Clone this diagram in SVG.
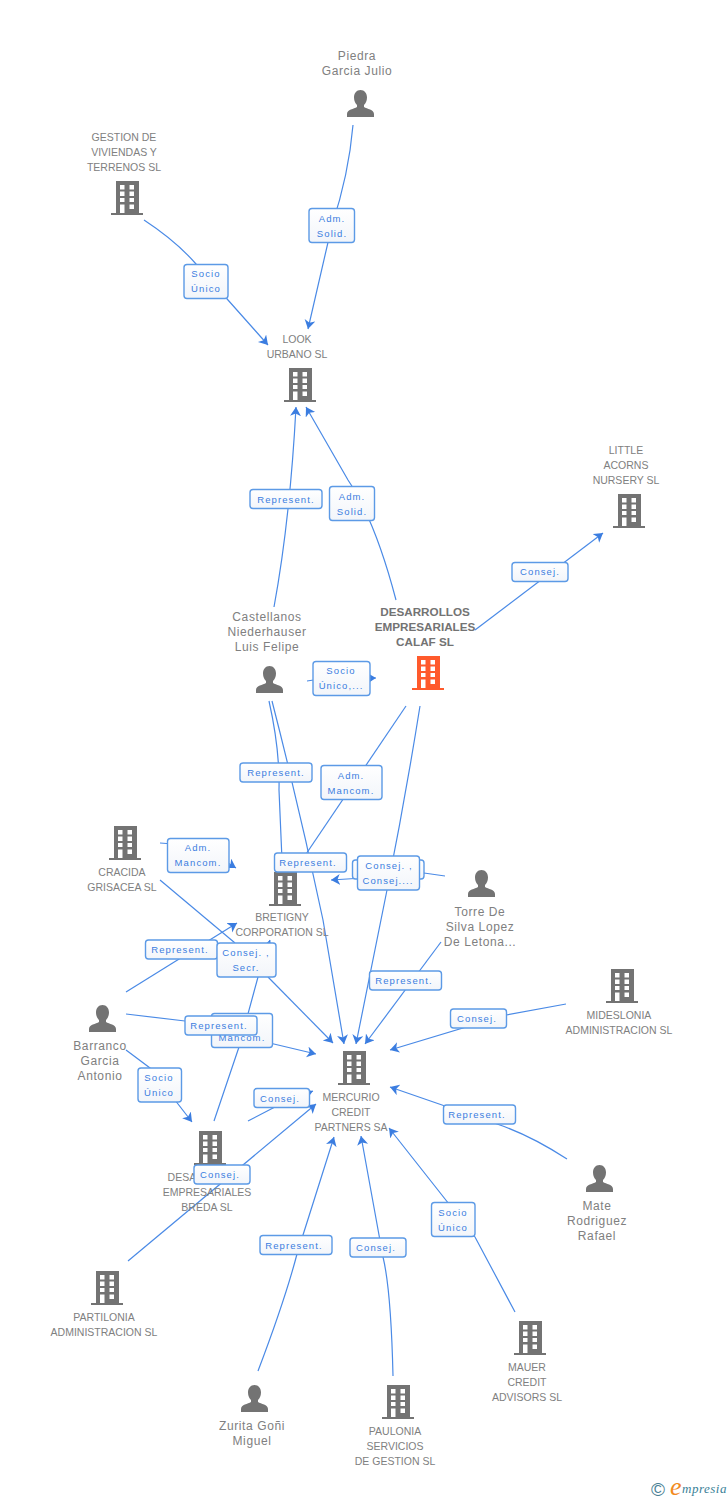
<svg xmlns="http://www.w3.org/2000/svg" width="728" height="1500" viewBox="0 0 728 1500">
<style>
text{font-family:"Liberation Sans",Arial,sans-serif}
.n{font-size:10.5px;fill:#808080;text-anchor:middle}
.p{font-size:12px;letter-spacing:.6px;fill:#808080;text-anchor:middle}
.b{font-size:11.700px;font-weight:bold;fill:#737373;text-anchor:middle}
.l{font-size:9.500px;letter-spacing:1.1px;fill:#3b7de0;text-anchor:middle}
.box{fill:url(#g);stroke:#5c9ae6;stroke-width:1.4}
.c{fill:none;stroke:#4a8ae6;stroke-width:1.2;marker-end:url(#a)}
.c0{fill:none;stroke:#4a8ae6;stroke-width:1.2}
</style>
<defs>
<linearGradient id="g" x1="0" y1="0" x2="0" y2="1"><stop offset="0" stop-color="#fff"/><stop offset="1" stop-color="#f2f5fa"/></linearGradient>
<marker id="a" markerUnits="userSpaceOnUse" markerWidth="11" markerHeight="12" refX="9" refY="5.500" orient="auto"><path d="M0,0 L9,5.500 L0,11 L2.500,5.500Z" fill="#3b7de0"/></marker>
<g id="bld"><path fill-rule="evenodd" d="M5,0H28V32H32V34H0V32H5ZM9,4V8.500H13.500V4ZM18.500,4V8.500H23V4ZM9,10.500V15H13.500V10.500ZM18.500,10.500V15H23V10.500ZM9,17V21H13.500V17ZM18.500,17V21H23V17ZM9,23.500V32H13.500V23.500ZM18.500,23.500V28H23V23.500Z"/></g>
<g id="psn"><path d="M13.500,0C17.500,0 20,3.200 20,7.500C20,11 18.500,13.500 17,15V17C20,19 27,19.500 27,24V27H0V24C0,19.500 7,19 10,17V15C8.500,13.500 7,11 7,7.500C7,3.200 9.500,0 13.500,0Z"/></g>
</defs>
<rect width="728" height="1500" fill="#fff"/>
<g id="connectors">
<path class="c" d="M353,125C350,160 342,195 332,225L308,329"/>
<path class="c" d="M144,220Q176,241 196,264L268,345"/>
<path class="c" d="M274,607Q290,520 296,407"/>
<path class="c" d="M396,600Q375,520 348,480L306,407"/>
<path class="c" d="M475,630L603,533"/>
<path class="c" d="M307,681L320,679L376,678"/>
<path class="c0" d="M269,701Q280,750 279,790L282,860"/>
<path class="c" d="M272,701Q300,810 323,920L344,1044"/>
<path class="c0" d="M406,706L302,860"/>
<path class="c" d="M420,706Q405,800 387,890L356,1044"/>
<path class="c" d="M445,876L424,873L395,876L331,880"/>
<path class="c" d="M441,942L365,1044"/>
<path class="c" d="M160,843L200,846L236,868"/>
<path class="c0" d="M160,880L235,943"/>
<path class="c" d="M268,977L333,1043"/>
<path class="c" d="M126,992L237,923"/>
<path class="c" d="M214,1121L239,1047L258,977L270,940"/>
<path class="c" d="M126,1014L185,1021L257,1040L316,1054"/>
<path class="c" d="M126,1050L150,1068L192,1122"/>
<path class="c" d="M248,1121L273,1108L290,1100L313,1091"/>
<path class="c" d="M128,1261L316,1104"/>
<path class="c" d="M258,1371Q285,1300 297,1254L334,1137"/>
<path class="c" d="M393,1376Q391,1290 383,1257L361,1136"/>
<path class="c" d="M515,1312Q490,1265 475,1237L389,1128"/>
<path class="c" d="M567,1159Q530,1135 497,1124L390,1087"/>
<path class="c" d="M566,1004L506,1015L390,1050"/>
</g>
<g id="node-piedra"><text class="p" x="357" y="60">Piedra</text><text class="p" x="357" y="75">Garcia Julio</text><use href="#psn" x="347" y="90" fill="#737373"/></g>
<g id="node-gestion"><text class="n" x="124" y="141">GESTION DE</text><text class="n" x="124" y="156">VIVIENDAS Y</text><text class="n" x="124" y="171">TERRENOS SL</text><use href="#bld" x="111" y="181" fill="#737373"/></g>
<g id="node-look"><text class="n" x="297" y="343">LOOK</text><text class="n" x="297" y="358">URBANO SL</text><use href="#bld" x="284" y="368" fill="#737373"/></g>
<g id="node-little"><text class="n" x="626" y="454">LITTLE</text><text class="n" x="626" y="469">ACORNS</text><text class="n" x="626" y="484">NURSERY SL</text><use href="#bld" x="613" y="494" fill="#737373"/></g>
<g id="node-calaf"><text class="b" x="425" y="616">DESARROLLOS</text><text class="b" x="425" y="631">EMPRESARIALES</text><text class="b" x="425" y="646">CALAF SL</text><use href="#bld" x="412" y="656" fill="#ff5a2c"/></g>
<g id="node-castellanos"><text class="p" x="267" y="621">Castellanos</text><text class="p" x="267" y="636">Niederhauser</text><text class="p" x="267" y="651">Luis Felipe</text><use href="#psn" x="256" y="666" fill="#737373"/></g>
<g id="node-cracida"><use href="#bld" x="109" y="826" fill="#737373"/><text class="n" x="122" y="876">CRACIDA</text><text class="n" x="122" y="891">GRISACEA SL</text></g>
<g id="node-bretigny"><use href="#bld" x="269" y="872" fill="#737373"/><text class="n" x="282" y="921">BRETIGNY</text><text class="n" x="282" y="936">CORPORATION SL</text></g>
<g id="node-torre"><use href="#psn" x="468" y="870" fill="#737373"/><text class="p" x="480" y="916">Torre De</text><text class="p" x="480" y="931">Silva Lopez</text><text class="p" x="480" y="946">De Letona...</text></g>
<g id="node-mideslonia"><use href="#bld" x="606" y="969" fill="#737373"/><text class="n" x="619" y="1019">MIDESLONIA</text><text class="n" x="619" y="1034">ADMINISTRACION SL</text></g>
<g id="node-barranco"><use href="#psn" x="89" y="1005" fill="#737373"/><text class="p" x="100" y="1050">Barranco</text><text class="p" x="100" y="1065">Garcia</text><text class="p" x="100" y="1080">Antonio</text></g>
<g id="node-mercurio"><use href="#bld" x="338" y="1051" fill="#737373"/><text class="n" x="351" y="1101">MERCURIO</text><text class="n" x="351" y="1116">CREDIT</text><text class="n" x="351" y="1131">PARTNERS SA</text></g>
<g id="node-breda"><use href="#bld" x="194" y="1131" fill="#737373"/><text class="n" x="207" y="1181">DESARROLLOS</text><text class="n" x="207" y="1196">EMPRESARIALES</text><text class="n" x="207" y="1211">BREDA SL</text></g>
<g id="node-mate"><use href="#psn" x="586" y="1165" fill="#737373"/><text class="p" x="597" y="1210">Mate</text><text class="p" x="597" y="1225">Rodriguez</text><text class="p" x="597" y="1240">Rafael</text></g>
<g id="node-partilonia"><use href="#bld" x="91" y="1271" fill="#737373"/><text class="n" x="104" y="1321">PARTILONIA</text><text class="n" x="104" y="1336">ADMINISTRACION SL</text></g>
<g id="node-mauer"><use href="#bld" x="514" y="1321" fill="#737373"/><text class="n" x="527" y="1371">MAUER</text><text class="n" x="527" y="1386">CREDIT</text><text class="n" x="527" y="1401">ADVISORS SL</text></g>
<g id="node-zurita"><use href="#psn" x="241" y="1385" fill="#737373"/><text class="p" x="252" y="1430">Zurita Goñi</text><text class="p" x="252" y="1445">Miguel</text></g>
<g id="node-paulonia"><use href="#bld" x="382" y="1385" fill="#737373"/><text class="n" x="395" y="1435">PAULONIA</text><text class="n" x="395" y="1450">SERVICIOS</text><text class="n" x="395" y="1465">DE GESTION SL</text></g>
<g id="labels">
<g><rect class="box" x="184" y="264.500" width="44" height="34" rx="3"/><text class="l" x="206" y="277">Socio</text><text class="l" x="206" y="292">Único</text></g>
<g><rect class="box" x="309" y="208.500" width="45.500" height="34" rx="3"/><text class="l" x="332" y="222">Adm.</text><text class="l" x="332" y="237">Solid.</text></g>
<g><rect class="box" x="250" y="489.500" width="72" height="19" rx="3"/><text class="l" x="286" y="503">Represent.</text></g>
<g><rect class="box" x="329.500" y="486.500" width="45" height="34" rx="3"/><text class="l" x="352" y="500">Adm.</text><text class="l" x="352" y="515">Solid.</text></g>
<g><rect class="box" x="512" y="562.500" width="56" height="19" rx="3"/><text class="l" x="540" y="575">Consej.</text></g>
<g><rect class="box" x="313" y="661.500" width="57" height="34" rx="3"/><text class="l" x="341" y="674">Socio</text><text class="l" x="341" y="689">Único,...</text></g>
<g><rect class="box" x="240" y="763" width="72" height="19" rx="3"/><text class="l" x="276" y="776">Represent.</text></g>
<g><rect class="box" x="321" y="765.500" width="61" height="34" rx="3"/><text class="l" x="351" y="779">Adm.</text><text class="l" x="351" y="794">Mancom.</text></g>
<g><rect class="box" x="167.500" y="838.500" width="61.500" height="34" rx="3"/><text class="l" x="198" y="851">Adm.</text><text class="l" x="198" y="866">Mancom.</text></g>
<g><rect class="box" x="274.500" y="853" width="72" height="19" rx="3"/><text class="l" x="308" y="866">Represent.</text></g>
<g><rect class="box" x="352.500" y="860" width="71.500" height="19" rx="3"/></g>
<g><rect class="box" x="357.500" y="856" width="62" height="34" rx="3"/><text class="l" x="389" y="869">Consej. ,</text><text class="l" x="388" y="884">Consej....</text></g>
<g><rect class="box" x="145.500" y="940" width="72" height="19" rx="3"/><text class="l" x="180" y="953">Represent.</text></g>
<g><rect class="box" x="217" y="943" width="59" height="34" rx="3"/><text class="l" x="246" y="956">Consej. ,</text><text class="l" x="246" y="971">Secr.</text></g>
<g><rect class="box" x="211.500" y="1013.500" width="61" height="34" rx="3"/><text class="l" x="242" y="1041">Mancom.</text></g>
<g><rect class="box" x="185" y="1016" width="72" height="19" rx="3"/><text class="l" x="219" y="1029">Represent.</text></g>
<g><rect class="box" x="138" y="1068" width="43.500" height="34" rx="3"/><text class="l" x="159" y="1081">Socio</text><text class="l" x="159" y="1096">Único</text></g>
<g><rect class="box" x="254" y="1088.500" width="55.500" height="19" rx="3"/><text class="l" x="280" y="1102">Consej.</text></g>
<g><rect class="box" x="194" y="1165" width="56" height="19" rx="3"/><text class="l" x="220" y="1178">Consej.</text></g>
<g><rect class="box" x="443.500" y="1105" width="72" height="19" rx="3"/><text class="l" x="477" y="1118">Represent.</text></g>
<g><rect class="box" x="450.500" y="1009" width="56" height="19" rx="3"/><text class="l" x="477" y="1022">Consej.</text></g>
<g><rect class="box" x="369.500" y="971" width="72" height="19" rx="3"/><text class="l" x="404" y="984">Represent.</text></g>
<g><rect class="box" x="260" y="1235.500" width="72" height="19" rx="3"/><text class="l" x="294" y="1249">Represent.</text></g>
<g><rect class="box" x="350" y="1238" width="56" height="19" rx="3"/><text class="l" x="376" y="1251">Consej.</text></g>
<g><rect class="box" x="431.500" y="1202.500" width="43.500" height="34" rx="3"/><text class="l" x="453" y="1216">Socio</text><text class="l" x="453" y="1231">Único</text></g>
</g>
<g id="logo"><text x="658" y="1496" font-size="19" fill="#4a7f95" text-anchor="middle">©</text><text x="670" y="1495" font-size="26" font-style="italic" fill="#f28a1e" style="font-family:'Liberation Serif',serif">e</text><text x="682" y="1493" font-size="13" font-style="italic" fill="#3a7f97" style="font-family:'Liberation Serif',serif;letter-spacing:.5px">mpresia</text></g>
</svg>
